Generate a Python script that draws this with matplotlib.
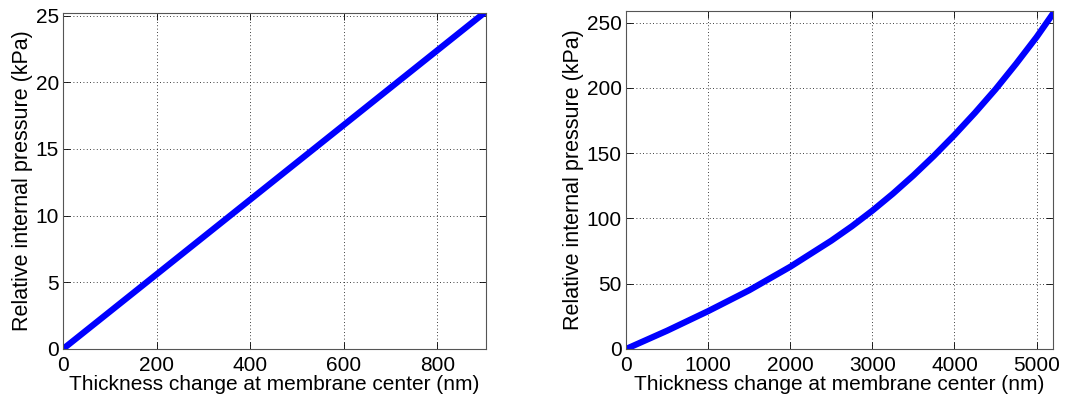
import numpy as np
import matplotlib.pyplot as plt

plt.rcParams['font.family'] = ['Liberation Sans', 'DejaVu Sans']

# Left panel: small deflection, nearly linear response
thick_small = [0, 100, 200, 300, 400, 500, 600, 700, 800, 900]
press_small = [0, 2.8, 5.6, 8.4, 11.2, 14.0, 16.8, 19.6, 22.4, 25.2]

# Right panel: large deflection, stiffening response
thick_large = [0, 250, 500, 750, 1000, 1250, 1500, 1750, 2000, 2250, 2500, 2750,
               3000, 3250, 3500, 3750, 4000, 4250, 4500, 4750, 5000, 5200]
press_large = [0, 7, 14, 21.5, 29, 37, 45, 54, 63, 73, 83, 94,
               106, 119, 133, 148, 164, 181, 199, 218.5, 239, 257]

XLABEL = "Thickness change at membrane center (nm)"
YLABEL = "Relative internal pressure (kPa)"

fig = plt.figure(figsize=(10.72, 4.03), dpi=100)
ax1 = fig.add_axes([63/1072, 1 - 349/403, 423/1072, 336/403])
ax2 = fig.add_axes([626/1072, 1 - 349/403, 427/1072, 338/403])


def style(ax, xmax, ymax, xticks, yticks):
    ax.set_xlim(0, xmax)
    ax.set_ylim(0, ymax)
    ax.set_xticks(xticks)
    ax.set_yticks(yticks)
    ax.grid(True, color='black', linestyle=(0, (1, 3)), linewidth=0.6)
    ax.tick_params(direction='in', top=True, right=True, length=5, width=0.6,
                   labelsize=15)
    ax.tick_params(axis='x', pad=5)
    ax.tick_params(axis='y', pad=3)
    for s in ax.spines.values():
        s.set_color('#555555')
        s.set_linewidth(0.8)
    ax.set_xlabel(XLABEL, fontsize=15, labelpad=0)
    ax.set_ylabel(YLABEL, fontsize=15.5, labelpad=2)


ax1.plot(thick_small, press_small, color='blue', linewidth=4.5, solid_capstyle='round')
style(ax1, 904, 25.2, [0, 200, 400, 600, 800], [0, 5, 10, 15, 20, 25])

ax2.plot(thick_large, press_large, color='blue', linewidth=4.5, solid_capstyle='round',
         solid_joinstyle='round')
style(ax2, 5200, 259, [0, 1000, 2000, 3000, 4000, 5000], [0, 50, 100, 150, 200, 250])

fig.savefig('out.png', dpi=100)
